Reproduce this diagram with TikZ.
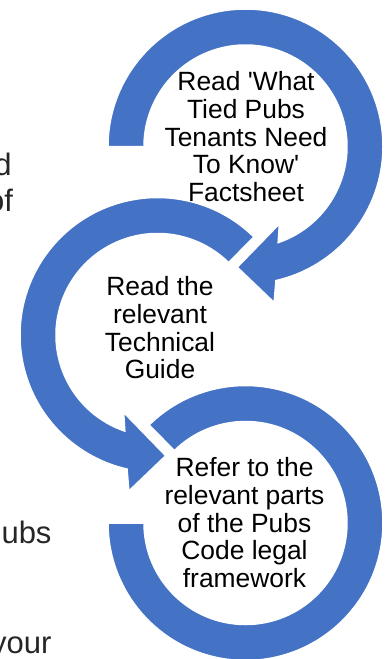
\documentclass[tikz,border=0pt]{standalone}
\usepackage{fontspec}
\setmainfont{Liberation Sans}
\definecolor{smartblue}{RGB}{68,114,196}

\begin{document}
\begin{tikzpicture}[x=1pt, y=1pt,
	ring/.style={fill=smartblue, draw=white, line width=1.5pt},
	steptext/.style={font=\fontsize{26.4}{27.8}\selectfont, align=center, inner sep=0pt},
	sidetext/.style={font=\fontsize{31}{37}\selectfont, color=black!85, inner sep=0pt, anchor=base east}]
	%%%%% START %%%%%
	\useasboundingbox (0, 0) rectangle (391, -659);
	
	% text of the slide, cut off at the left
	\node[sidetext] (sidea) at (11.7, -175) {d};
	\node[sidetext] (sideb) at (13.3, -211.7) {of};
	\node[sidetext] (sidec) at (51.7, -543.3) {ubs};
	\node[sidetext] (sided) at (51.7, -653.3) {your};
	
	% third ring, no head
	\begin{scope}[shift={(245.5, -523)}]
		\filldraw[ring] (134.5:137.5) arc[start angle=134.5, end angle=-180, radius=137.5]
			-- (180:101.5) arc[start angle=-180, end angle=134.5, radius=101.5] -- cycle;
	\end{scope}
	
	% second ring, turning left
	\begin{scope}[shift={(157.5, -335)}]
		\filldraw[ring] (45.5:137.5) arc[start angle=45.5, end angle=257.2, radius=137.5]
			-- (259.6:158.6) -- (273.9:121) -- (246.4:84.5)
			-- (251.2:101.5) arc[start angle=251.2, end angle=45.5, radius=101.5] -- cycle;
	\end{scope}
	
	% first ring, turning right
	\begin{scope}[shift={(245.5, -146.5)}]
		\filldraw[ring] (180:137.5) arc[start angle=180, end angle=-77.2, radius=137.5]
			-- (-79.6:158.6) -- (-93.9:121) -- (-66.4:84.5)
			-- (-71.2:101.5) arc[start angle=-71.2, end angle=180, radius=101.5] -- cycle;
	\end{scope}
	
	\node[steptext] (readsheet) at (246, -136.6) {Read \textquotesingle What\\Tied Pubs\\Tenants Need\\To Know\textquotesingle\\Factsheet};
	\node[steptext] (readguide) at (160, -327.7) {Read the\\relevant\\Technical\\Guide};
	\node[steptext] (referparts) at (244.5, -522.7) {Refer to the\\relevant parts\\of the Pubs\\Code legal\\framework};
	
	%%%%% END %%%%%
\end{tikzpicture}
\end{document}
